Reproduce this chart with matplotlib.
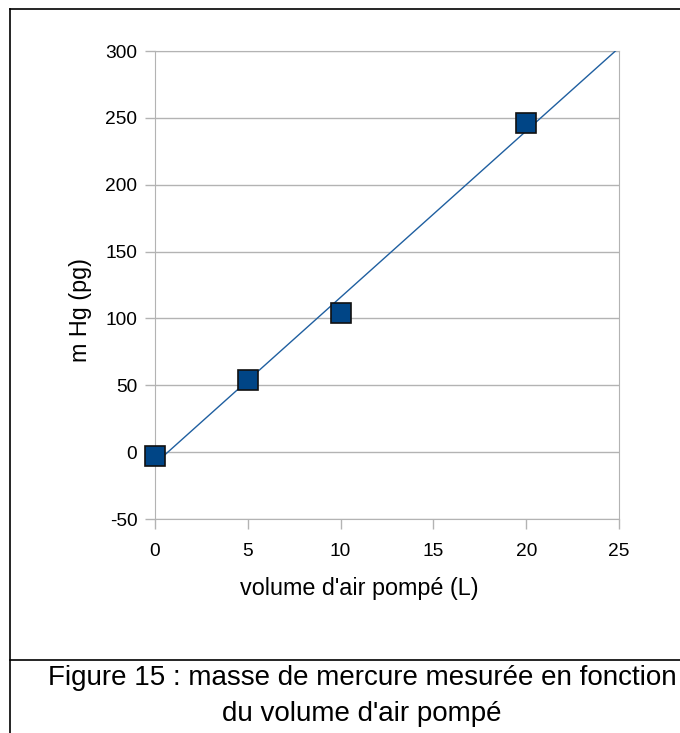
import numpy as np
import matplotlib
matplotlib.use("Agg")
import matplotlib.pyplot as plt
from matplotlib.lines import Line2D

plt.rcParams["font.family"] = ["Liberation Sans", "DejaVu Sans"]
plt.rcParams["axes.unicode_minus"] = False

# mesures : volume d'air pompé (L) et masse de mercure (pg)
volume = [0, 5, 10, 20]
masse_hg = [-3, 54, 104, 246]
x_ticks = [0, 5, 10, 15, 20, 25]
y_ticks = [-50, 0, 50, 100, 150, 200, 250, 300]

W, H = 680, 733
fig = plt.figure(figsize=(W / 100, H / 100), dpi=100)
ax = fig.add_axes([155 / W, 1 - 519 / H, (619 - 155) / W, (519 - 51) / H])

# droite de tendance (régression linéaire)
pente, origine = np.polyfit(volume, masse_hg, 1)
xs = np.array([0, 25])
ax.plot(xs, pente * xs + origine, color="#1f5fa0", lw=1.0, zorder=3)
ax.plot(volume, masse_hg, ls="none", marker="s", ms=14, mfc="#004586",
        mec="#111111", mew=1.2, zorder=4, clip_on=False)

ax.set_xlim(0, 25)
ax.set_ylim(-50, 300)
ax.set_xticks(x_ticks)
ax.set_yticks(y_ticks)
ax.grid(True, axis="y", color="#b3b3b3", lw=1)
ax.set_axisbelow(True)
for s in ax.spines.values():
    s.set_color("#b3b3b3")
ax.tick_params(colors="#b3b3b3", labelcolor="black", labelsize=13.8,
               length=7.2, width=1)
ax.tick_params(axis="x", pad=10)
ax.tick_params(axis="y", pad=5.5)
ax.set_xlabel("volume d'air pompé (L)", fontsize=16.8)
ax.set_ylabel("m Hg (pg)", fontsize=16.8)
ax.xaxis.set_label_coords(0.44, (519 - 589) / 468, transform=ax.transAxes)
ax.yaxis.set_label_coords((80 - 155) / 464, (519 - 310) / 468, transform=ax.transAxes)
ax.xaxis.label.set_va("center")
ax.yaxis.label.set_va("center")

# cadre du tableau et légende de la figure
fig.add_artist(Line2D([9.5 / W, 9.5 / W], [0, 1 - 8.5 / H], color="black", lw=1.2))
fig.add_artist(Line2D([9.5 / W, 1], [1 - 8.5 / H, 1 - 8.5 / H], color="black", lw=1.2))
fig.add_artist(Line2D([9.5 / W, 1], [1 - 659.5 / H, 1 - 659.5 / H], color="black", lw=1.2))
fig.text(362 / W, 1 - 678 / H, "Figure 15 : masse de mercure mesurée en fonction",
         ha="center", va="center", fontsize=20)
fig.text(362 / W, 1 - 714 / H, "du volume d'air pompé",
         ha="center", va="center", fontsize=20)

fig.savefig("out.png", dpi=100)
